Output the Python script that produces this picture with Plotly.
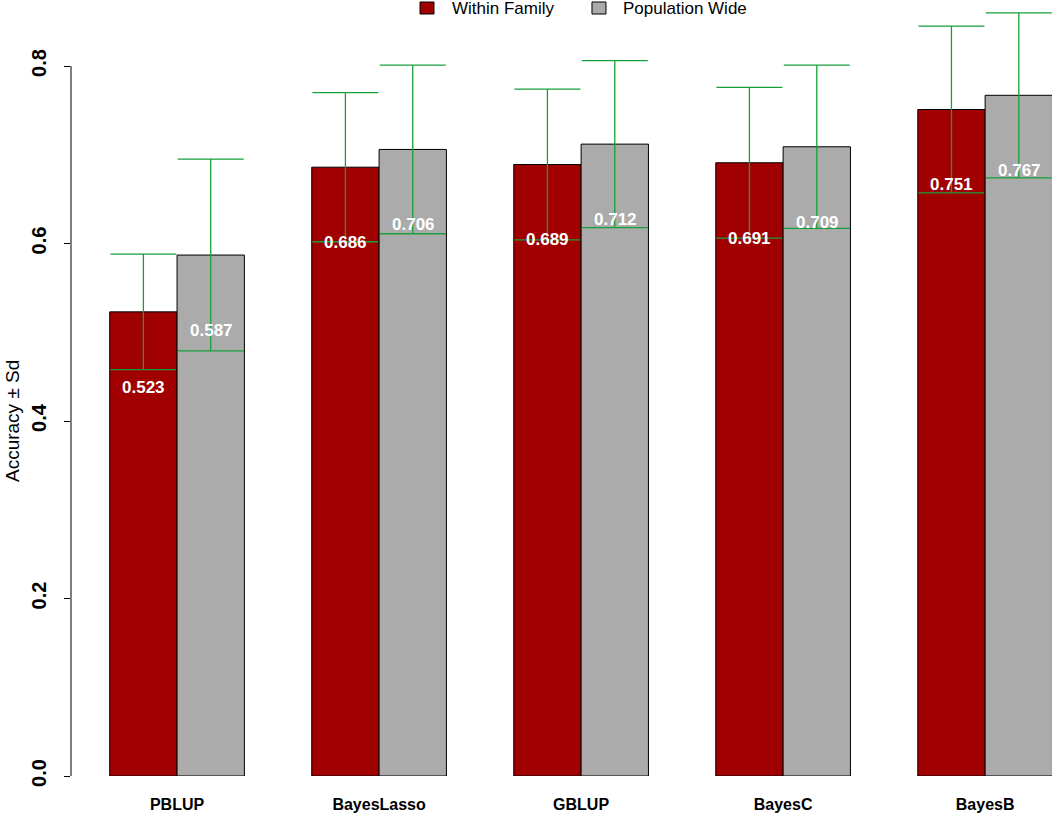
import plotly.graph_objects as go

methods = ["PBLUP", "BayesLasso", "GBLUP", "BayesC", "BayesB"]
within_family = [0.523, 0.686, 0.689, 0.691, 0.751]
within_sd = [0.065, 0.084, 0.085, 0.085, 0.094]
population_wide = [0.587, 0.706, 0.712, 0.709, 0.767]
population_sd = [0.108, 0.095, 0.094, 0.092, 0.093]
y_ticks = [0.0, 0.2, 0.4, 0.6, 0.8]
series_names = ["Within Family", "Population Wide"]

RED = "#A00000"
GREY = "#ABABAB"
GREEN = "#17A03A"
FONT = "Liberation Sans"

fig = go.Figure()
fig.add_trace(go.Bar(
    x=methods, y=within_family, name=series_names[0],
    marker=dict(color=RED, line=dict(color="#000000", width=1)),
    error_y=dict(type="data", array=within_sd, color=GREEN, thickness=1.3, width=33),
))
fig.add_trace(go.Bar(
    x=methods, y=population_wide, name=series_names[1],
    marker=dict(color=GREY, line=dict(color="#000000", width=1)),
    error_y=dict(type="data", array=population_sd, color=GREEN, thickness=1.3, width=33),
))

# value labels
for series, shift in ((within_family, -34), (population_wide, 34)):
    for m, v in zip(methods, series):
        fig.add_annotation(
            x=m, y=v - 0.085, xref="x", yref="y", text=f"{v:.3f}",
            showarrow=False, xshift=shift,
            font=dict(family=FONT, size=17, color="white", weight="bold"),
        )

# y axis line from 0 to 0.8 (R style)
fig.add_shape(type="line", xref="paper", yref="y", x0=0, x1=0,
              y0=y_ticks[0], y1=y_ticks[-1], line=dict(color="#000000", width=1))

fig.add_annotation(
    xref="paper", yref="y", x=0, y=0.4, xshift=-59, xanchor="center", yanchor="middle",
    text="Accuracy ± Sd", textangle=-90, showarrow=False,
    font=dict(family=FONT, size=19, color="#000000"),
)

# top legend (R style, drawn as key squares + labels)
for name, col, sq_x, txt_x in ((series_names[0], RED, 0.3629, 0.3863),
                               (series_names[1], GREY, 0.5382, 0.5607)):
    fig.add_shape(type="rect", xref="paper", yref="paper",
                  xsizemode="pixel", ysizemode="pixel", xanchor=sq_x, yanchor=1,
                  x0=-7, x1=7, y0=-14, y1=-2,
                  fillcolor=col, line=dict(color="#000000", width=1))
    fig.add_annotation(xref="paper", yref="paper", x=txt_x, y=1, yshift=-8,
                       xanchor="left", yanchor="middle", showarrow=False, text=name,
                       font=dict(family=FONT, size=17, color="#000000"))

fig.update_layout(
    width=1052, height=813,
    margin=dict(l=71, r=0, t=0, b=37),
    plot_bgcolor="white", paper_bgcolor="white",
    barmode="group", bargap=1/3, bargroupgap=0,
    showlegend=False,
    xaxis=dict(range=[-0.525, 4.331], showline=False, showgrid=False, zeroline=False,
               ticks="", ticklabelstandoff=17,
               tickfont=dict(family=FONT, size=16, color="#000000", weight="bold")),
    yaxis=dict(range=[0, 0.8744], showline=False, showgrid=False, zeroline=False,
               tickvals=y_ticks, ticktext=[f"{t:.1f}" for t in y_ticks],
               ticks="outside", ticklen=6, tickcolor="#000000", tickwidth=1,
               tickangle=-90, ticklabelstandoff=10,
               tickfont=dict(family=FONT, size=20, color="#000000", weight="bold")),
)

fig.write_html("out.html", config={"displayModeBar": False},
               post_script="document.body.style.margin='0';")
